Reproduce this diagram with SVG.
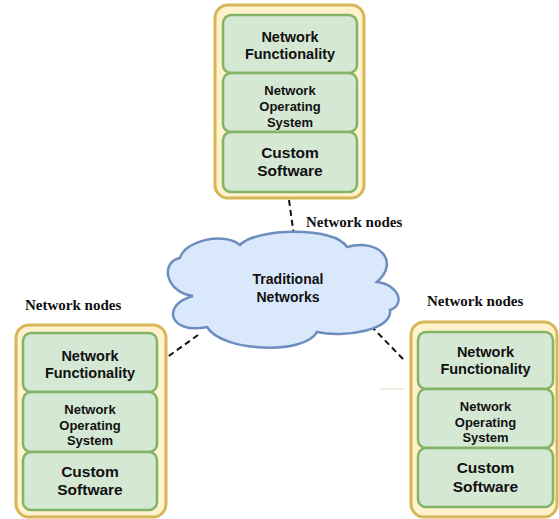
<svg xmlns="http://www.w3.org/2000/svg" width="559" height="519" viewBox="0 0 559 519">
<style>
.outer{fill:#fff2cc;stroke:#d6b656;stroke-width:3}
.inner{fill:#d5e8d4;stroke:#82b366;stroke-width:2.5}
.t{font-family:"Liberation Sans",Arial,sans-serif;font-weight:bold;fill:#111;text-anchor:middle}
.f1{font-size:14.5px}
.f2{font-size:13px}
.f3{font-size:15.5px}
.lbl{font-family:"Liberation Serif","Times New Roman",serif;font-weight:bold;font-size:15px;fill:#111}
.dash{stroke:#111;stroke-width:2;stroke-dasharray:6 4;fill:none}
</style>
<rect width="559" height="519" fill="#ffffff"/>
<g id="connectors">
<line class="dash" x1="289" y1="200" x2="294" y2="236"/>
<line class="dash" x1="198" y1="335" x2="166" y2="358"/>
<line class="dash" x1="371" y1="326" x2="405" y2="361"/>
<line x1="380" y1="389" x2="405" y2="389" stroke="#e6dcc0" stroke-width="1"/>
</g>
<g id="cloud">
<path d="M193,296 C165,292 160,262 180,258 C185,240 225,232 240,245 C255,228 335,226 347,247 C380,238 400,262 377,282 C400,285 405,305 390,310 C393,330 345,338 317,332 C305,355 222,352 207,327 C170,335 160,305 193,296 Z" fill="#dae8fc" stroke="#6c8ebf" stroke-width="2.5"/>
<text class="t" x="288" y="284" font-size="14">Traditional</text>
<text class="t" x="288" y="302" font-size="14">Networks</text>
</g>
<g id="node-top">
<rect class="outer" x="215" y="5" width="149" height="193" rx="13"/>
<rect class="inner" x="223" y="15" width="134" height="58" rx="8"/>
<rect class="inner" x="223" y="73" width="134" height="59" rx="8"/>
<rect class="inner" x="223" y="132" width="134" height="60" rx="8"/>
<text class="t f1" x="290" y="42">Network</text>
<text class="t f1" x="290" y="59">Functionality</text>
<text class="t f2" x="290" y="95">Network</text>
<text class="t f2" x="290" y="111">Operating</text>
<text class="t f2" x="290" y="127">System</text>
<text class="t f3" x="290" y="158">Custom</text>
<text class="t f3" x="290" y="176">Software</text>
</g>
<g id="label-top"><text class="lbl" x="306" y="227">Network nodes</text></g>
<g id="node-left">
<rect class="outer" x="16" y="325" width="150" height="192" rx="13"/>
<rect class="inner" x="23" y="333" width="134" height="59" rx="8"/>
<rect class="inner" x="23" y="392" width="134" height="60" rx="8"/>
<rect class="inner" x="23" y="452" width="134" height="58" rx="8"/>
<text class="t f1" x="90" y="361">Network</text>
<text class="t f1" x="90" y="378">Functionality</text>
<text class="t f2" x="90" y="414">Network</text>
<text class="t f2" x="90" y="430">Operating</text>
<text class="t f2" x="90" y="445">System</text>
<text class="t f3" x="90" y="477">Custom</text>
<text class="t f3" x="90" y="495">Software</text>
</g>
<g id="label-left"><text class="lbl" x="25" y="310">Network nodes</text></g>
<g id="node-right">
<rect class="outer" x="411" y="322" width="146" height="195" rx="13"/>
<rect class="inner" x="418" y="332" width="135" height="57" rx="8"/>
<rect class="inner" x="418" y="389" width="135" height="59" rx="8"/>
<rect class="inner" x="418" y="448" width="135" height="59" rx="8"/>
<text class="t f1" x="485.5" y="357">Network</text>
<text class="t f1" x="485.5" y="374">Functionality</text>
<text class="t f2" x="485.5" y="411">Network</text>
<text class="t f2" x="485.5" y="427">Operating</text>
<text class="t f2" x="485.5" y="442">System</text>
<text class="t f3" x="485.5" y="473">Custom</text>
<text class="t f3" x="485.5" y="492">Software</text>
</g>
<g id="label-right"><text class="lbl" x="427" y="306">Network nodes</text></g>
</svg>
